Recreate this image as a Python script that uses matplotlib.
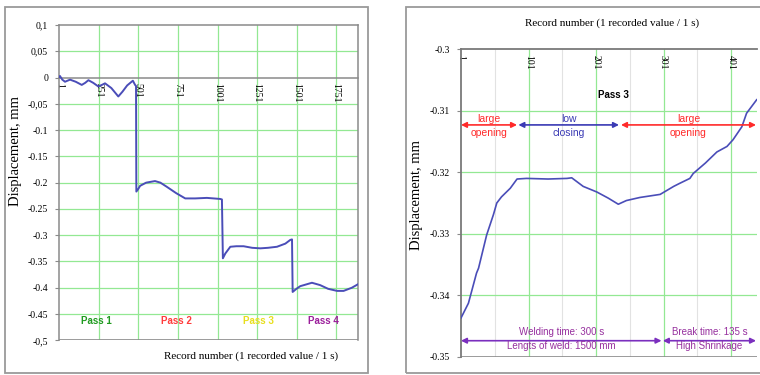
import matplotlib
matplotlib.use("Agg")
import matplotlib.pyplot as plt
from matplotlib.patches import Rectangle

# ---------- data ----------
# left: whole record, 4 passes
left_rec = [1, 5, 20, 37, 69, 105, 143, 165, 185, 215, 248, 270, 290, 330, 374, 400,
            430, 466, 480, 486, 488, 500, 512, 550, 606, 640, 681, 740, 797, 860, 934,
            1018, 1029, 1035, 1050, 1082, 1120, 1166, 1220, 1272, 1320, 1377, 1430,
            1461, 1472, 1476, 1500, 1524, 1598, 1650, 1700, 1757, 1798, 1850, 1891]
left_disp = [0.001, 0.003, -0.004, -0.008, -0.004, -0.008, -0.014, -0.010, -0.005,
             -0.010, -0.017, -0.014, -0.011, -0.020, -0.036, -0.027, -0.015, -0.006,
             -0.014, -0.016, -0.217, -0.212, -0.206, -0.200, -0.197, -0.200, -0.208,
             -0.220, -0.230, -0.230, -0.229, -0.231, -0.232, -0.344, -0.335, -0.322,
             -0.321, -0.321, -0.324, -0.325, -0.324, -0.322, -0.316, -0.309, -0.308,
             -0.408, -0.402, -0.397, -0.3905, -0.395, -0.402, -0.406, -0.406, -0.400,
             -0.393]
left_yticks = [0.1, 0.05, 0, -0.05, -0.1, -0.15, -0.2, -0.25, -0.3, -0.35, -0.4, -0.45, -0.5]
left_ylabels = ["0,1", "0,05", "0", "-0,05", "-0.1", "-0.15", "-0.2", "-0.25", "-0.3",
                "-0.35", "-0.4", "-0.45", "-0,5"]
left_xticks = [1, 251, 501, 751, 1001, 1251, 1501, 1751]
pass_names = ["Pass 1", "Pass 2", "Pass 3", "Pass 4"]
pass_x = [238, 744, 1260, 1668]
pass_colors = ["#1f9a1f", "#ff3b3b", "#e8df1c", "#9b1f9b"]

# right: zoom on pass 3
right_rec = [1, 12, 24, 27, 39, 49, 54, 61, 74, 84, 98, 130, 158, 165, 182, 202, 219,
             234, 246, 266, 296, 316, 325, 340, 345, 363, 380, 395, 404, 417, 424, 439]
right_disp = [-0.3437, -0.3413, -0.3364, -0.3356, -0.3302, -0.3269, -0.3250, -0.3240,
              -0.3226, -0.3211, -0.3210, -0.3211, -0.3210, -0.3209, -0.3223, -0.3232,
              -0.3242, -0.3252, -0.3246, -0.3241, -0.3236, -0.3223, -0.3218, -0.3210,
              -0.3202, -0.3185, -0.3167, -0.3158, -0.3147, -0.3126, -0.3104, -0.3082]
right_yticks = [-0.3, -0.31, -0.32, -0.33, -0.34, -0.35]
right_xticks = [1, 101, 201, 301, 401]
right_minor = [51, 151, 251, 351]

# phase arrows (start, end, label, colour)
phases = [(1, 84, "large\nopening", "#ff2a2a"),
          (86, 235, "low\nclosing", "#3a3ab4"),
          (238, 438, "large\nopening", "#ff2a2a")]
bottom_spans = [(1, 298, "Welding time: 300 s", "Lengts of weld: 1500 mm"),
                (300, 438, "Break time: 135 s", "High Shrinkage")]

LINE = "#4a4db8"
GRID = "#93e893"
AXC = "#8a8a8a"
SERIF = "Liberation Serif"
SANS = "Liberation Sans"

fig = plt.figure(figsize=(7.6, 3.75), dpi=100)

# panel frames
fig.add_artist(Rectangle((5 / 760, 1 - 373 / 375), 363 / 760, 366 / 375,
                         transform=fig.transFigure, fill=False, ec="#9a9a9a", lw=1.3))
fig.add_artist(Rectangle((406 / 760, 1 - 373 / 375), 370 / 760, 366 / 375,
                         transform=fig.transFigure, fill=False, ec="#9a9a9a", lw=1.3,
                         clip_on=False))

# ---------- left panel ----------
ax1 = fig.add_axes([59.3 / 760, 1 - 340.3 / 375, 299 / 760, 315.3 / 375])
# category axis crosses at 0 (set before ticks: set_position resets them)
ax1.spines["bottom"].set_position(("data", 0))
ax1.plot(left_rec, left_disp, color=LINE, lw=1.4, zorder=3)
ax1.set_xlim(1, 1891)
ax1.set_ylim(-0.5, 0.1)
ax1.set_yticks(left_yticks)
ax1.set_yticklabels(left_ylabels, family=SERIF, fontsize=7)
ax1.set_xticks(left_xticks)
ax1.set_xticklabels([str(v) for v in left_xticks], family=SERIF, fontsize=7,
                    rotation=-90)
for v in left_xticks[1:]:
    ax1.axvline(v, color=GRID, lw=0.9, zorder=1)
for v in left_yticks[1:-1]:
    if v != 0:
        ax1.axhline(v, color=GRID, lw=0.9, zorder=1)
ax1.axhline(-0.5, color=AXC, lw=1.2, zorder=2)
for s in ax1.spines.values():
    s.set_color(AXC)
    s.set_linewidth(1.1)
ax1.tick_params(axis="x", length=0, pad=4)
ax1.tick_params(axis="y", length=3, color=AXC, pad=5)
ax1.set_ylabel("Displacement, mm", family=SERIF, fontsize=10.5)
ax1.yaxis.set_label_coords(-0.125, 0.6)
ax1.text(0.643, -0.049, "Record number (1 recorded value / 1 s)", transform=ax1.transAxes,
         family=SERIF, fontsize=8, ha="center", va="center")
for name, px, c in zip(pass_names, pass_x, pass_colors):
    ax1.text(px, -0.4634, name, color=c, family=SANS, fontweight="bold", fontsize=7,
             ha="center", va="center")

# ---------- right panel ----------
ax2 = fig.add_axes([461 / 760, 1 - 356.7 / 375, 295.7 / 760, 307.4 / 375])
ax2.spines["bottom"].set_position(("data", -0.3))
ax2.plot(right_rec, right_disp, color=LINE, lw=1.2, zorder=3)
ax2.set_xlim(1, 439)
ax2.set_ylim(-0.35, -0.3)
ax2.set_yticks(right_yticks)
ax2.set_yticklabels([f"{v:g}" for v in right_yticks], family=SERIF, fontsize=7)
ax2.set_xticks(right_xticks)
ax2.set_xticklabels([str(v) for v in right_xticks], family=SERIF, fontsize=7,
                    rotation=-90)
for v in right_minor:
    ax2.axvline(v, color="#e2e2e2", lw=0.8, zorder=1)
for v in right_xticks[1:]:
    ax2.axvline(v, color=GRID, lw=0.9, zorder=1)
for v in right_yticks[1:-1]:
    ax2.axhline(v, color=GRID, lw=0.9, zorder=1)
ax2.axhline(-0.35, color=AXC, lw=1.2, zorder=2)
ax2.spines["right"].set_visible(False)
ax2.spines["top"].set_visible(False)
for s in ax2.spines.values():
    s.set_color("#7a7a7a")
    s.set_linewidth(1.3)
ax2.tick_params(axis="x", length=0, pad=4)
ax2.tick_params(axis="y", length=3, color=AXC, pad=5)
ax2.set_ylabel("Displacement, mm", family=SERIF, fontsize=10.5)
ax2.yaxis.set_label_coords(-0.128, 0.526)
ax2.text(0.51, 1.0846, "Record number (1 recorded value / 1 s)", transform=ax2.transAxes,
         family=SERIF, fontsize=8, ha="center", va="center")
ax2.text(227, -0.3075, "Pass 3", family=SANS, fontweight="bold", fontsize=7,
         ha="center", va="center")

for x0, x1, label, c in phases:
    ax2.annotate("", xy=(x1, -0.3123), xytext=(x0, -0.3123),
                 arrowprops=dict(arrowstyle="<|-|>", color=c, lw=1.2, mutation_scale=8,
                                 shrinkA=0, shrinkB=0), annotation_clip=False)
    ax2.text((x0 + x1) / 2, -0.3125, label, color=c, family=SANS, fontsize=7.5,
             ha="center", va="center", linespacing=1.5)

for x0, x1, top, bot in bottom_spans:
    ax2.annotate("", xy=(x1, -0.3474), xytext=(x0, -0.3474),
                 arrowprops=dict(arrowstyle="<|-|>", color="#7b2fbe", lw=1.2,
                                 mutation_scale=8, shrinkA=0, shrinkB=0),
                 annotation_clip=False)
    xm = (x0 + x1) / 2
    ax2.text(xm, -0.3460, top, color="#962f9e", family=SANS, fontsize=7,
             ha="center", va="center")
    ax2.text(xm, -0.3483, bot, color="#962f9e", family=SANS, fontsize=7,
             ha="center", va="center")

fig.savefig("out.png", dpi=100)
